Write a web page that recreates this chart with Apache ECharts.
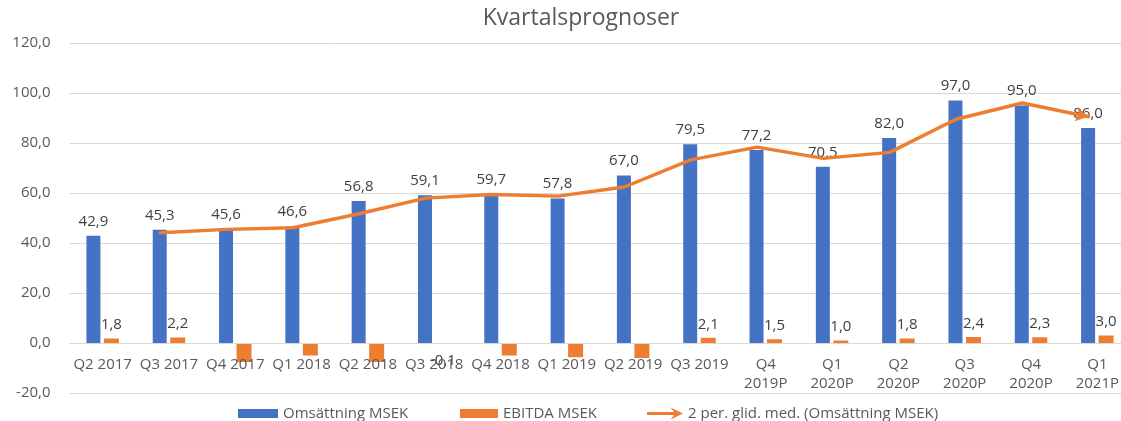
<!DOCTYPE html>
<html>
<head>
<meta charset="utf-8">
<script src="https://cdn.jsdelivr.net/npm/echarts@6/dist/echarts.min.js"></script>
<style>html,body{margin:0;padding:0;background:#fff;}#c{width:1121px;height:421px;}</style>
</head>
<body>
<div id="c"></div>
<script>
const categories = ['Q2 2017','Q3 2017','Q4 2017','Q1 2018','Q2 2018','Q3 2018','Q4 2018','Q1 2019','Q2 2019','Q3 2019','Q4\n2019P','Q1\n2020P','Q2\n2020P','Q3\n2020P','Q4\n2020P','Q1\n2021P'];
const revenue = [42.9,45.3,45.6,46.6,56.8,59.1,59.7,57.8,67.0,79.5,77.2,70.5,82.0,97.0,95.0,86.0];
const ebitda = [1.8,2.2,-7.6,-5.0,-7.6,-0.1,-5.0,-5.7,-6.0,2.1,1.5,1.0,1.8,2.4,2.3,3.0];
const movingAvg = [null,44.1,45.45,46.1,51.7,57.95,59.4,58.75,62.4,73.25,78.35,73.85,76.25,89.5,96.0,90.5];
const yTicks = {min:-20, max:120, interval:20};
const seriesNames = ['Omsättning MSEK','EBITDA MSEK','2 per. glid. med. (Omsättning MSEK)'];

const FONT = "'Open Sans', sans-serif";
const fmt = v => v.toFixed(1).replace('.', ',');

const ebitdaData = ebitda.map(v => {
  if (v >= 0) return {value: v, label: {show: true, position: 'top', distance: 6}};
  if (v > -1) return {value: v, label: {show: true, position: 'bottom', distance: 10}};
  return {value: v, label: {show: false}};
});
const lastIdx = movingAvg.length - 1;
const lineData = movingAvg.map((v, i) => i === lastIdx
  ? {value: v, symbol: 'arrow', symbolSize: [11, 13], symbolRotate: -102}
  : v);

const chart = echarts.init(document.getElementById('c'), null, {renderer: 'canvas'});
chart.setOption({
  animation: false,
  textStyle: {fontFamily: FONT},
  title: {
    text: 'Kvartalsprognoser', left: 576, top: 2, textAlign: 'center',
    textStyle: {fontFamily: FONT, fontSize: 23, fontWeight: 'normal', color: '#595959'}
  },
  legend: [
    {data: [seriesNames[0]], left: 233, top: 401, itemWidth: 40, itemHeight: 9, itemGap: 4, icon: 'rect',
     textStyle: {fontFamily: FONT, fontSize: 15, color: '#595959'}},
    {data: [seriesNames[1]], left: 455, top: 401, itemWidth: 38, itemHeight: 9, itemGap: 4, icon: 'rect',
     textStyle: {fontFamily: FONT, fontSize: 15, color: '#595959'}},
    {data: [{name: seriesNames[2], icon: 'path://M0,4.6 L27,4.6 L23.5,0 L36,6 L23.5,12 L27,7.4 L0,7.4 Z'}],
     left: 642, top: 401, itemWidth: 36, itemHeight: 12, itemGap: 4,
     textStyle: {fontFamily: FONT, fontSize: 15, color: '#595959'}}
  ],
  grid: [
    {left: 69.5, top: 43, width: 1061, height: 350, outerBoundsMode: 'none', containLabel: false},
    {left: 60.75, top: 43, width: 1061, height: 350, outerBoundsMode: 'none', containLabel: false}
  ],
  xAxis: [
    {type: 'category', data: categories, gridIndex: 0, z: 10, position: 'bottom', offset: -50,
     axisLine: {show: true, onZero: false, lineStyle: {color: '#D9D9D9', width: 1}},
     axisTick: {show: false},
     axisLabel: {interval: 0, margin: 12, fontFamily: FONT, fontSize: 15, color: '#595959', lineHeight: 19}},
    {type: 'category', data: categories, gridIndex: 1, show: false}
  ],
  yAxis: [
    {type: 'value', gridIndex: 0, min: yTicks.min, max: yTicks.max, interval: yTicks.interval,
     axisLine: {show: false}, axisTick: {show: false},
     splitLine: {lineStyle: {color: '#D9D9D9', width: 1}},
     axisLabel: {formatter: v => fmt(v), margin: 19, fontFamily: FONT, fontSize: 15, color: '#595959'}},
    {type: 'value', gridIndex: 1, min: yTicks.min, max: yTicks.max, interval: yTicks.interval, show: false,
     splitLine: {show: false}}
  ],
  series: [
    {name: seriesNames[0], type: 'bar', xAxisIndex: 0, yAxisIndex: 0, data: revenue,
     barWidth: 14, barGap: '25%', itemStyle: {color: '#4472C4'}, z: 2,
     label: {show: true, position: 'top', distance: 7, formatter: p => fmt(p.value),
             fontFamily: FONT, fontSize: 15, color: '#404040'}},
    {name: seriesNames[1], type: 'bar', xAxisIndex: 0, yAxisIndex: 0, data: ebitdaData,
     barWidth: 15, itemStyle: {color: '#ED7D31'}, z: 2,
     label: {formatter: p => fmt(p.value), fontFamily: FONT, fontSize: 15, color: '#404040'}},
    {name: seriesNames[2], type: 'line', xAxisIndex: 1, yAxisIndex: 1, data: lineData,
     symbol: 'none', showSymbol: true, smooth: false, connectNulls: false, z: 5,
     lineStyle: {color: '#ED7D31', width: 3.5, cap: 'round', join: 'round'},
     itemStyle: {color: '#ED7D31'}}
  ]
});
</script>
</body>
</html>
